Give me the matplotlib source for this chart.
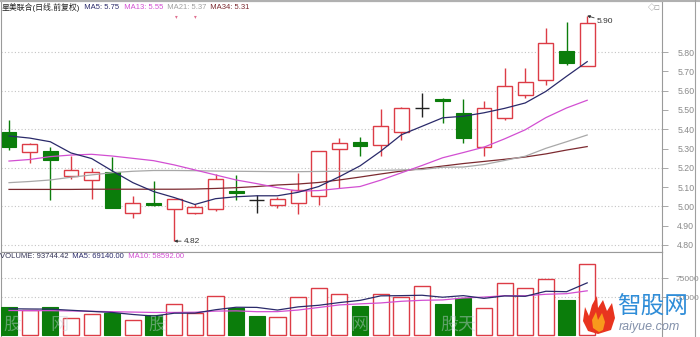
import matplotlib
matplotlib.use("Agg")
import matplotlib.pyplot as plt
from matplotlib.patches import Polygon
from matplotlib.lines import Line2D
import numpy as np

plt.rcParams['font.family'] = ['Liberation Sans', 'Noto Sans CJK SC', 'DejaVu Sans']

# ---------------- data ----------------
opens = [5.387, 5.280, 5.287, 5.158, 5.137, 5.180, 4.964, 5.016, 4.987, 4.967,
         4.987, 5.081, 5.033, 5.006, 5.016, 5.055, 5.296, 5.335, 5.318, 5.387,
         5.508, 5.558, 5.485, 5.309, 5.456, 5.577, 5.655, 5.807, 5.727]
highs = [5.448, 5.330, 5.309, 5.261, 5.197, 5.258, 5.054, 5.132, 5.037, 5.011,
         5.168, 5.163, 5.059, 5.050, 5.175, 5.289, 5.353, 5.358, 5.503, 5.513,
         5.586, 5.560, 5.555, 5.548, 5.716, 5.716, 5.923, 5.957, 5.988]
lows = [5.292, 5.223, 5.033, 5.140, 5.037, 4.990, 4.938, 5.002, 4.820, 4.960,
        4.976, 5.033, 4.967, 4.990, 4.961, 5.007, 5.094, 5.263, 5.261, 5.344,
        5.462, 5.431, 5.330, 5.261, 5.450, 5.560, 5.629, 5.733, 5.727]
closes = [5.309, 5.322, 5.240, 5.189, 5.180, 4.990, 5.016, 5.009, 5.037, 4.998,
          5.140, 5.068, 5.033, 5.038, 5.085, 5.289, 5.327, 5.313, 5.417, 5.508,
          5.508, 5.548, 5.353, 5.508, 5.625, 5.646, 5.848, 5.741, 5.949]

ma5 = [5.365, 5.354, 5.335, 5.277, 5.248, 5.184, 5.123, 5.077, 5.046, 5.010,
       5.040, 5.050, 5.055, 5.055, 5.073, 5.103, 5.154, 5.210, 5.286, 5.371,
       5.415, 5.459, 5.467, 5.485, 5.508, 5.536, 5.596, 5.674, 5.750]
ma13 = [5.235, 5.243, 5.258, 5.266, 5.270, 5.261, 5.249, 5.237, 5.215, 5.189,
        5.163, 5.137, 5.118, 5.097, 5.079, 5.082, 5.093, 5.103, 5.136, 5.174,
        5.212, 5.252, 5.279, 5.307, 5.350, 5.397, 5.460, 5.510, 5.550]
ma21 = [5.123, 5.129, 5.137, 5.151, 5.163, 5.175, 5.182, 5.186, 5.186, 5.185,
        5.183, 5.182, 5.181, 5.180, 5.180, 5.181, 5.182, 5.183, 5.186, 5.189,
        5.191, 5.203, 5.204, 5.217, 5.238, 5.260, 5.301, 5.335, 5.370]
ma34 = [5.088, 5.088, 5.088, 5.088, 5.089, 5.089, 5.089, 5.089, 5.089, 5.090,
        5.093, 5.097, 5.103, 5.111, 5.116, 5.124, 5.137, 5.152, 5.168, 5.183,
        5.196, 5.209, 5.222, 5.233, 5.244, 5.256, 5.272, 5.292, 5.310]

volumes = [36800, 32500, 36800, 22500, 28100, 29500, 19500, 26000, 41200, 29000,
           52000, 36000, 24700, 23800, 49800, 62700, 54200, 39000, 54200, 50800,
           64600, 40900, 49500, 35800, 68300, 62400, 74100, 47000, 93744.42]
vol_ma5 = [34800, 34500, 34300, 32800, 31300, 29900, 27200, 25100, 28900, 29000,
           33500, 36800, 36600, 33100, 37300, 39400, 43000, 45900, 51900, 52200,
           52700, 50100, 52200, 48600, 51800, 51300, 58000, 57400, 69140]
vol_ma10 = [32500, 32300, 32300, 31900, 31400, 30900, 30400, 29900, 29900, 30200,
            31700, 32000, 30900, 31000, 33100, 36500, 39900, 41300, 42500, 44700,
            46000, 46500, 49100, 50300, 52100, 52000, 54000, 54800, 58592]

price_ticks = [4.80, 4.90, 5.00, 5.10, 5.20, 5.30, 5.40, 5.50, 5.60, 5.70, 5.80]
price_grid = [4.80, 5.00, 5.20, 5.40, 5.60, 5.80]
vol_ticks = [50000, 75000]

stock_title = "星美联合(日线,前复权)"
high_label = "5.90"

# ---------------- styling ----------------
W, H = 700, 337
RED = "#dc3c46"
GREEN = "#0b7d0b"
NAVY = "#2a2a6a"
MAG = "#d24fd2"
GRAY = "#a8a8a8"
BROWN = "#7c2a30"
SPINE = "#9a9a9a"
GRID = "#c4c4c4"

fig = plt.figure(figsize=(W / 100, H / 100), dpi=100)
fig.patch.set_facecolor("white")


def fx(px):
    return px / W


def fy(py):
    return 1 - py / H


L, R = 1, 662
PT, PB = 1, 252
VB = 337
axp = fig.add_axes([fx(L), fy(PB), fx(R - L), (PB - PT) / H])
axv = fig.add_axes([fx(L), fy(VB), fx(R - L), (VB - PB) / H])

x = np.arange(len(closes))
step = 20.65
x0 = 9
xl = ((L - x0) / step, (R - x0) / step)

o = np.array(opens); c = np.array(closes); h = np.array(highs); lo = np.array(lows)
up = c > o
dn = c < o
cross = c == o

bw = 0.72
axp.vlines(x[up], lo[up], h[up], color=RED, lw=1, zorder=2)
axp.vlines(x[dn], lo[dn], h[dn], color=GREEN, lw=1, zorder=2)
axp.vlines(x[cross], lo[cross], h[cross], color="#222222", lw=1, zorder=2)
axp.bar(x[up], (c - o)[up], bottom=o[up], width=bw, facecolor="white",
        edgecolor=RED, lw=1, zorder=3)
dh = np.maximum((o - c)[dn], 0.009)
axp.bar(x[dn], dh, bottom=(o[dn] - dh), width=bw, facecolor=GREEN,
        edgecolor=GREEN, lw=0.8, zorder=3)
axp.hlines(c[cross], x[cross] - bw / 2, x[cross] + bw / 2, color="#222222", lw=1, zorder=3)

axp.plot(x, ma34, color=BROWN, lw=0.9, zorder=4)
axp.plot(x, ma21, color=GRAY, lw=0.9, zorder=4)
axp.plot(x, ma13, color=MAG, lw=0.9, zorder=4)
axp.plot(x, ma5, color=NAVY, lw=0.9, zorder=4)

ylo = 5.80 - (PB - 52) / 193
yhi = 5.80 + (52 - PT) / 193
axp.set_xlim(*xl)
axp.set_ylim(ylo, yhi)
for g in price_grid:
    axp.axhline(g, color=GRID, lw=0.8, ls=(0, (1, 2)), zorder=0)

axp.yaxis.tick_right()
axp.set_yticks(price_ticks)
axp.set_yticklabels([f"{t:.2f}" for t in price_ticks])
axp.tick_params(axis="y", direction="out", length=4, width=0.6, color=SPINE,
                labelsize=6.3, labelcolor="#8a8a8a", pad=7)
axp.set_xticks([])
for s in axp.spines.values():
    s.set_color(SPINE)
    s.set_linewidth(0.8)

il = int(np.argmin(lo))
axp.annotate(f"{lo[il]:.2f}", xy=(x[il], lo[il]), xytext=(7, 0), textcoords="offset points",
             fontsize=6, color="#333333", va="center", ha="left",
             arrowprops=dict(arrowstyle="-|>", lw=0.6, color="#333333",
                             mutation_scale=4, shrinkA=0, shrinkB=0))
ih = int(np.argmax(h))
axp.annotate(high_label, xy=(x[ih], h[ih]), xytext=(7, -4), textcoords="offset points",
             fontsize=6, color="#333333", va="center", ha="left",
             arrowprops=dict(arrowstyle="-|>", lw=0.6, color="#333333",
                             mutation_scale=4, shrinkA=0, shrinkB=0))

# ---------------- volume ----------------
vol = np.array(volumes)
prev = np.concatenate([[c[0]], c[:-1]])
vup = up | (cross & (c >= prev))
vdn = ~vup
vw = 0.78
axv.bar(x[vup], vol[vup], width=vw, facecolor="white", edgecolor=RED, lw=1, zorder=3)
axv.bar(x[vdn], vol[vdn], width=vw, facecolor=GREEN, edgecolor=GREEN, lw=0.8, zorder=3)
axv.plot(x, vol_ma10, color=MAG, lw=0.9, zorder=4)
axv.plot(x, vol_ma5, color=NAVY, lw=0.9, zorder=4)
per_px = 93744.42 / (335 - 264.3)
axv.set_ylim(-(VB - 335) * per_px, (335 - PB) * per_px)
axv.set_xlim(*xl)
for g in vol_ticks:
    axv.axhline(g, color=GRID, lw=0.8, ls=(0, (1, 2)), zorder=0)
axv.yaxis.tick_right()
axv.set_yticks(vol_ticks)
axv.set_yticklabels([f"{t}" for t in vol_ticks])
axv.tick_params(axis="y", direction="out", length=4, width=0.6, color=SPINE,
                labelsize=6, labelcolor="#8a8a8a", pad=6)
axv.set_xticks([])
for s in axv.spines.values():
    s.set_color(SPINE)
    s.set_linewidth(0.8)
axv.spines["bottom"].set_visible(False)

for px, txt in [(3, "股"), (50, "网"), (148, "股"), (350, "网"), (440, "股天")]:
    fig.text(fx(px), fy(334), txt, fontsize=13, color="#c5d0da", alpha=0.45,
             ha="left", va="bottom", family=["Noto Sans CJK SC"], zorder=5)


# ---------------- titles ----------------
def chain(ax, pieces, px, py, size):
    first = pieces[0]
    t = ax.text(fx(px), fy(py), first[0], color=first[1],
                fontsize=first[2] if len(first) > 2 else size,
                ha="left", va="center", transform=fig.transFigure, zorder=10)
    for p in pieces[1:]:
        t = ax.annotate(p[0], xy=(1, 0.5), xycoords=t, color=p[1],
                        fontsize=p[2] if len(p) > 2 else size, ha="left", va="center",
                        annotation_clip=False, zorder=10)
    return t


chain(axp, [(stock_title, "#222222", 5.7), ("  MA5: 5.75", NAVY), ("  MA13: 5.55", MAG),
            ("  MA21: 5.37", "#a0a0a0"), ("  MA34: 5.31", BROWN)], 2, 7.5, 5.5)
chain(axv, [("VOLUME: 93744.42", "#333355"), ("  MA5: 69140.00", NAVY),
            ("  MA10: 58592.00", MAG)], 0, 257, 5.5)

fig.text(fx(176), fy(17), "▾", fontsize=4, color="#e07090", ha="center", va="center")
fig.text(fx(195), fy(17), "▾", fontsize=4, color="#e07090", ha="center", va="center")
fig.text(fx(654), fy(8), "◇□", fontsize=5.5, color="#888888", ha="center", va="center")

fig.add_artist(Line2D([0, 1], [fy(0.5), fy(0.5)], color="#b0b0b0", lw=1.5))
fig.add_artist(Line2D([fx(695), fx(695)], [0, 1], color="#a0a0a0", lw=0.8))

# ---------------- logo ----------------
flame_outer = [(598, 334), (588, 331), (583, 321), (585, 307), (589, 316), (592, 305),
               (597, 296), (598, 308), (603, 300), (607, 311), (612, 303), (615, 318),
               (611, 330)]
flame_inner = [(599, 332), (593, 328), (592, 320), (596, 312), (598, 320), (602, 313),
               (605, 322), (603, 330)]
fig.add_artist(Polygon([(fx(a), fy(b)) for a, b in flame_outer], closed=True,
                       facecolor="#e8341f", edgecolor="none", transform=fig.transFigure))
fig.add_artist(Polygon([(fx(a), fy(b)) for a, b in flame_inner], closed=True,
                       facecolor="#f89a1c", edgecolor="none", transform=fig.transFigure))
fig.text(fx(617), fy(307), "智股网", fontsize=17, color="#2f8dd8", ha="left", va="center",
         family=["Noto Sans CJK SC"])
fig.text(fx(619), fy(327), "raiyue.com", fontsize=9, color="#8290aa", ha="left", va="center",
         style="italic")

fig.savefig("out.png", dpi=100)
